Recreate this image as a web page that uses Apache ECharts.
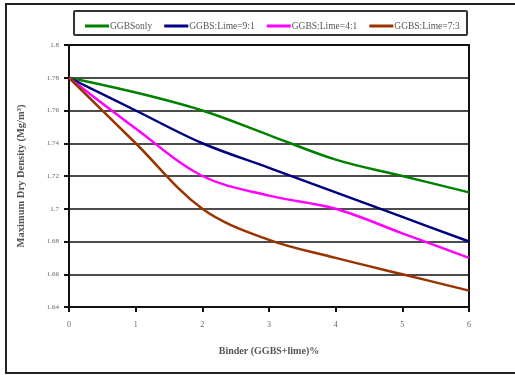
<!DOCTYPE html>
<html>
<head>
<meta charset="utf-8">
<script src="https://cdn.jsdelivr.net/npm/echarts@6/dist/echarts.min.js"></script>
<style>
  html, body { margin: 0; padding: 0; background: #fff; }
  #chart { width: 515px; height: 375px; }
</style>
</head>
<body>
<div id="chart"></div>
<script>
// Binder content (%) and maximum dry density for each mix
const binderPct = [0, 1, 2, 3, 4, 5, 6];
const ggbsOnly = [1.78, 1.771, 1.76, 1.745, 1.73, 1.72, 1.71];
const lime91 = [1.78, 1.76, 1.74, 1.725, 1.71, 1.695, 1.68];
const lime41 = [1.78, 1.749, 1.72, 1.708, 1.70, 1.685, 1.67];
const lime73 = [1.78, 1.74, 1.70, 1.681, 1.67, 1.66, 1.65];
const seriesNames = ['GGBSonly', 'GGBS:Lime=9:1', 'GGBS:Lime=4:1', 'GGBS:Lime=7:3'];
const seriesColors = ['#008000', '#000080', '#ff00ff', '#993300'];

const values = [ggbsOnly, lime91, lime41, lime73];
const font = '"Liberation Serif", "DejaVu Serif", serif';

const chart = echarts.init(document.getElementById('chart'), null, { renderer: 'canvas' });
chart.setOption({
  animation: false,
  backgroundColor: '#fff',
  textStyle: { fontFamily: font },
  graphic: [
    { type: 'rect', shape: { x: 6, y: 4, width: 520, height: 369 },
      style: { fill: 'none', stroke: '#222', lineWidth: 2 }, z: -1 },
    { type: 'rect', shape: { x: 74, y: 11, width: 393, height: 24, r: 1 },
      style: { fill: '#fff', stroke: '#333', lineWidth: 2 }, z: 0 }
  ],
  legend: {
    top: 16, left: 80,
    itemWidth: 24, itemHeight: 3, itemGap: 12,
    icon: 'rect',
    textStyle: { fontFamily: font, fontSize: 9.5, color: '#555', padding: [0, 0, 0, -4] },
    data: seriesNames
  },
  grid: {
    left: 69, right: 46, top: 45, bottom: 68,
    show: true, borderColor: '#111', borderWidth: 2
  },
  xAxis: {
    type: 'value', min: 0, max: 6, interval: 1,
    name: 'Binder (GGBS+lime)%', nameLocation: 'middle', nameGap: 39,
    nameTextStyle: { fontFamily: font, fontSize: 10, color: '#555', fontWeight: 'bold' },
    axisLine: { lineStyle: { color: '#111', width: 2 } },
    axisTick: { show: true, length: 5, lineStyle: { color: '#111', width: 2 } },
    axisLabel: { fontFamily: font, fontSize: 8, color: '#666', margin: 14 },
    splitLine: { show: false }
  },
  yAxis: {
    type: 'value', min: 1.64, max: 1.8, interval: 0.02,
    name: 'Maximum Dry Density (Mg/m\u00b3)', nameLocation: 'middle', nameGap: 42,
    nameTextStyle: { fontFamily: font, fontSize: 10.5, color: '#555', fontWeight: 'bold', letterSpacing: 1.2 },
    axisLine: { lineStyle: { color: '#111', width: 2 } },
    axisTick: { show: true, length: 5, lineStyle: { color: '#111', width: 2 } },
    axisLabel: {
      fontFamily: font, fontSize: 7, color: '#666', margin: 10,
      formatter: v => String(parseFloat(v.toFixed(2)))
    },
    splitLine: { show: true, lineStyle: { color: '#111', width: 1.5 } }
  },
  series: values.map((vals, i) => ({
    name: seriesNames[i],
    type: 'line',
    smooth: 0.35,
    symbol: 'none',
    data: binderPct.map((x, k) => [x, vals[k]]),
    lineStyle: { color: seriesColors[i], width: 2.5 },
    itemStyle: { color: seriesColors[i] }
  }))
});
</script>
</body>
</html>
